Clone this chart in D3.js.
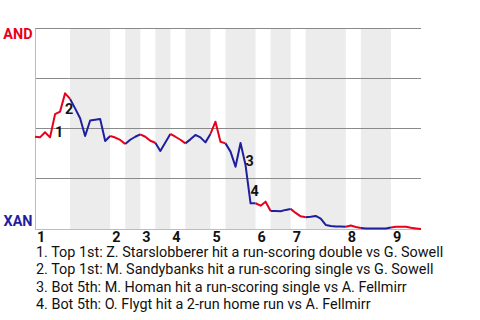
<!DOCTYPE html>
<html>
<head>
<meta charset="utf-8">
<script src="https://cdn.jsdelivr.net/npm/d3@7"></script>
<style>
  html, body { margin: 0; padding: 0; background: #fff; }
  svg { display: block; font-family: Roboto, "Noto Sans", sans-serif; }
</style>
</head>
<body>
<svg id="chart" width="480" height="320"></svg>
<script>
// AND (visiting team) win probability, in percent, after each plate appearance
const winProb = [
  45.9, 45.6, 48.1, 45.6, 57.1, 58.4, 67.5, 64.7, 60.0, 55.1,
  46.3, 54.0, 54.4, 54.7, 43.8, 46.3, 45.5, 44.3, 42.3, 44.4,
  45.9, 47.1, 45.9, 43.9, 42.9, 38.8, 43.0, 47.3, 45.9, 44.4,
  42.6, 44.6, 46.8, 45.6, 43.1, 47.3, 53.4, 43.4, 42.6, 38.5,
  31.0, 42.8, 31.8, 12.8, 12.8, 11.6, 13.6, 9.0, 9.0, 8.8,
  9.5, 10.0, 8.0, 6.3, 5.8, 6.1, 6.5, 5.2, 2.0, 1.5,
  1.3, 1.2, 1.1, 1.7, 1.0, 0.5, 0.3, 0.3, 0.3, 0.3,
  0.3, 0.7, 1.1, 1.1, 1.1, 0.6, 0.3, 0.0
];
// Half-inning boundaries (plate-appearance index where each half starts / ends)
const halfStarts = [0, 7, 15, 18, 21, 24, 27, 30, 35, 38, 44, 47, 51, 54, 62, 65, 71];
const halfEnds   = [7, 15, 18, 21, 24, 27, 30, 35, 38, 44, 47, 51, 54, 62, 65, 71, 77];
const halfSides  = ["top","bot","top","bot","top","bot","top","bot","top","bot","top","bot","top","bot","top","bot","top"];
const inningLabels = ["1","2","3","4","5","6","7","8","9"];
const inningStarts = [0, 15, 21, 27, 35, 44, 51, 62, 71];
const teamTop = "AND";
const teamBottom = "XAN";
const yTicks = [0, 25, 50, 75, 100];
// Key events: index of the plate appearance that ends the marked segment
const eventIdx = [4, 6, 42, 43];
const eventLabels = ["1", "2", "3", "4"];
const eventTexts = [
  "1. Top 1st: Z. Starslobberer hit a run-scoring double vs G. Sowell",
  "2. Top 1st: M. Sandybanks hit a run-scoring single vs G. Sowell",
  "3. Bot 5th: M. Homan hit a run-scoring single vs A. Fellmirr",
  "4. Bot 5th: O. Flygt hit a 2-run home run vs A. Fellmirr"
];

const RED = "#e8001c", BLUE = "#1f1f9e";
const FS = 14.4;
const svg = d3.select("#chart");
const x = d3.scaleLinear().domain([0, winProb.length - 1]).range([35, 421]);
const y = d3.scaleLinear().domain([0, 100]).range([229, 28]);
const crisp = v => Math.floor(v) + 0.5;

// shaded bottom halves
svg.append("g").selectAll("rect")
  .data(halfStarts.map((s, i) => ({s, e: halfEnds[i], side: halfSides[i]})).filter(d => d.side === "bot"))
  .join("rect")
  .attr("x", d => x(d.s))
  .attr("width", d => x(d.e) - x(d.s))
  .attr("y", y(100))
  .attr("height", y(0) - y(100))
  .attr("fill", "#ececec");

// gridlines
svg.append("g").selectAll("line")
  .data(yTicks.filter(t => t > 0))
  .join("line")
  .attr("x1", x(0)).attr("x2", x(winProb.length - 1))
  .attr("y1", d => crisp(y(d))).attr("y2", d => crisp(y(d)))
  .attr("stroke", "#8a8a8a").attr("stroke-width", 1);

// axes lines (left + bottom)
svg.append("line")
  .attr("x1", crisp(x(0))).attr("x2", crisp(x(0)))
  .attr("y1", crisp(y(100))).attr("y2", crisp(y(0)))
  .attr("stroke", "#bdbdbd");
svg.append("line")
  .attr("x1", x(0)).attr("x2", x(winProb.length - 1))
  .attr("y1", crisp(y(0))).attr("y2", crisp(y(0)))
  .attr("stroke", "#bdbdbd");

// win probability line, coloured by half-inning
const segs = [];
halfStarts.forEach((s, i) => {
  const pts = d3.range(s, halfEnds[i] + 1).map(k => [k, winProb[k]]);
  segs.push({pts, side: halfSides[i]});
});
const lineGen = d3.line().x(d => x(d[0])).y(d => y(d[1]));
svg.append("g").selectAll("path")
  .data(segs)
  .join("path")
  .attr("d", d => lineGen(d.pts))
  .attr("fill", "none")
  .attr("stroke", d => d.side === "top" ? RED : BLUE)
  .attr("stroke-width", 2)
  .attr("stroke-linejoin", "round");

// event markers
svg.append("g").selectAll("text")
  .data(eventIdx.map((k, i) => ({k, label: eventLabels[i]})))
  .join("text")
  .attr("x", d => (x(d.k - 1) + x(d.k)) / 2 + 2.5)
  .attr("y", d => (y(winProb[d.k - 1]) + y(winProb[d.k])) / 2 + 11.5)
  .attr("font-size", FS).attr("font-weight", "bold").attr("fill", "#111")
  .text(d => d.label);

// team labels
svg.append("text").attr("x", 32.5).attr("y", 38.5).attr("text-anchor", "end")
  .attr("font-size", FS).attr("font-weight", "bold").attr("fill", RED).text(teamTop);
svg.append("text").attr("x", 32.5).attr("y", 225.5).attr("text-anchor", "end")
  .attr("font-size", FS).attr("font-weight", "bold").attr("fill", BLUE).text(teamBottom);

// inning labels
svg.append("g").selectAll("text")
  .data(inningStarts.map((s, i) => ({s, label: inningLabels[i]})))
  .join("text")
  .attr("x", d => x(d.s) + 2)
  .attr("y", 242)
  .attr("font-size", FS).attr("font-weight", "bold").attr("fill", "#111")
  .text(d => d.label);

// event descriptions
svg.append("g").selectAll("text")
  .data(eventTexts)
  .join("text")
  .attr("x", 36)
  .attr("y", (d, i) => 257 + i * 17.35)
  .attr("font-size", FS).attr("fill", "#111")
  .text(d => d);
</script>
</body>
</html>
